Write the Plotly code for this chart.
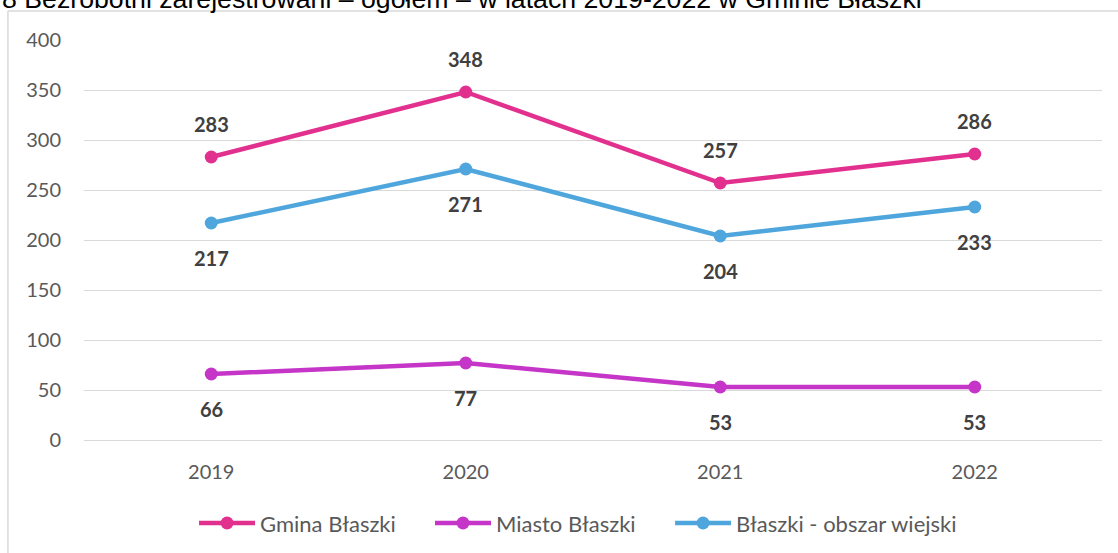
import plotly.graph_objects as go

years = ["2019", "2020", "2021", "2022"]
gmina = [283, 348, 257, 286]
miasto = [66, 77, 53, 53]
wies = [217, 271, 204, 233]

series_names = ["Gmina Błaszki", "Miasto Błaszki", "Błaszki - obszar wiejski"]
colors = ["#E2308F", "#C435C8", "#4FA6DD"]
label_side = [1, -1, -1]  # 1 = above, -1 = below
y_ticks = [0, 50, 100, 150, 200, 250, 300, 350, 400]
title_text = "8 Bezrobotni zarejestrowani – ogółem – w latach 2019-2022 w Gminie Błaszki"

FONT = "Lato, 'Open Sans', sans-serif"
xpos = list(range(len(years)))
legend_ids = ["legend", "legend2", "legend3"]
legend_x = [0.1081, 0.3399, 0.5757]

fig = go.Figure()
annotations = []
for name, vals, col, side, lid in zip(series_names, [gmina, miasto, wies], colors, label_side, legend_ids):
    fig.add_trace(go.Scatter(
        x=xpos, y=vals, name=name, mode="lines+markers",
        line=dict(color=col, width=4.5),
        marker=dict(color=col, size=13),
        legend=lid,
    ))
    for xv, yv in zip(xpos, vals):
        annotations.append(dict(
            x=xv, y=yv, xref="x", yref="y", text=f"<b>{yv}</b>",
            showarrow=False, yshift=33 if side > 0 else -35,
            font=dict(family=FONT, size=20, color="#404040"),
        ))

# Partially cut-off title at the top
annotations.append(dict(
    x=-0.0825, y=1.1025, xref="paper", yref="paper", xanchor="left", yanchor="middle",
    text=title_text, showarrow=False,
    font=dict(family="'Liberation Sans', Arial, sans-serif", size=26.7, color="#000000"),
))

legend_style = dict(orientation="h", xanchor="left", y=-0.208, yanchor="middle",
                    font=dict(family=FONT, size=22, color="#595959"),
                    itemwidth=56, bgcolor="rgba(0,0,0,0)")

fig.update_layout(
    width=1118, height=553,
    margin=dict(l=84, r=16, t=40, b=113, autoexpand=False),
    paper_bgcolor="white", plot_bgcolor="white",
    font=dict(family=FONT, size=20, color="#595959"),
    showlegend=True,
    legend=dict(x=legend_x[0], **legend_style),
    legend2=dict(x=legend_x[1], **legend_style),
    legend3=dict(x=legend_x[2], **legend_style),
    annotations=annotations,
    shapes=[
        dict(type="line", xref="paper", yref="paper", x0=-0.0747, x1=1.02,
             y0=1.0725, y1=1.0725, line=dict(color="#D9D9D9", width=1.5)),
        dict(type="line", xref="paper", yref="paper", x0=-0.0747, x1=-0.0747,
             y0=1.0725, y1=-0.3, line=dict(color="#D9D9D9", width=1.5)),
    ],
)
fig.update_xaxes(
    range=[-0.5, 3.5], tickvals=xpos, ticktext=years,
    showgrid=False, showline=False, zeroline=False, ticks="",
    ticklabelstandoff=18, tickfont=dict(family=FONT, size=20, color="#595959"),
)
fig.update_yaxes(
    range=[0, 400], tickvals=y_ticks, showgrid=True, gridcolor="#D9D9D9", gridwidth=1,
    zeroline=True, zerolinecolor="#D9D9D9", zerolinewidth=1, showline=False, ticks="",
    ticklabelstandoff=22, tickfont=dict(family=FONT, size=20, color="#595959"),
)

fig.write_html("out.html", config={"displayModeBar": False},
               post_script="document.body.style.margin='0';")
